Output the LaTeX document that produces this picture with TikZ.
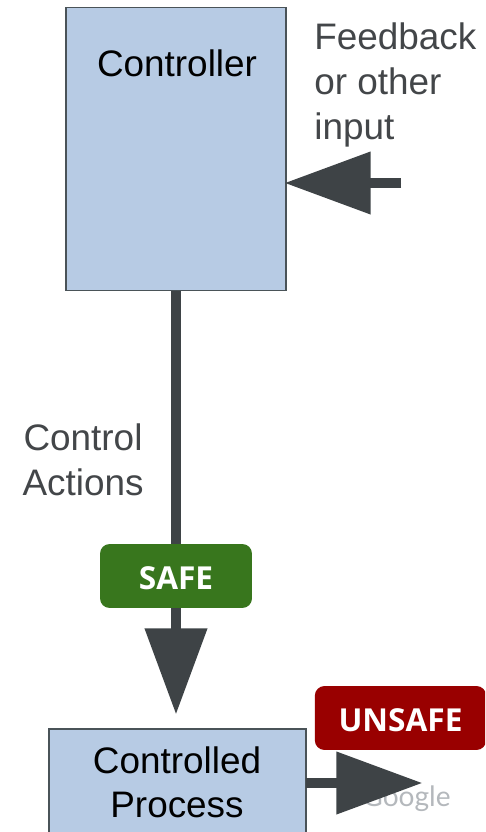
\documentclass[tikz,border=0pt]{standalone}
\usepackage{fontspec}
\setmainfont{Liberation Sans}
\newfontfamily\badgefont{Open Sans}
\newfontfamily\logofont{Lato}
\usetikzlibrary{arrows.meta}
\definecolor{boxblue}{HTML}{B7CBE4}
\definecolor{boxedge}{HTML}{4A5358}
\definecolor{arrowgray}{HTML}{3E4346}
\definecolor{labelgray}{HTML}{434649}
\definecolor{safegreen}{HTML}{38761D}
\definecolor{unsafered}{HTML}{990000}
\definecolor{logogray}{HTML}{B4B8BC}
\tikzset{
  procbox/.style={draw=boxedge,fill=boxblue,line width=1pt,outer sep=0pt,inner sep=0pt},
  boxtext/.style={text=black,align=center,font=\fontsize{21}{25}\selectfont},
  graytext/.style={text=labelgray,inner sep=0pt,font=\fontsize{21}{25.6}\selectfont},
  badge/.style={rounded corners=5.5pt,text=white,minimum height=36.4pt,inner sep=0pt,font=\badgefont\bfseries\fontsize{18}{20}\selectfont},
  bigarrow/.style={draw=arrowgray,fill=arrowgray,line width=5.9pt,-{Triangle[length=49pt,width=34.2pt]}},
}
\begin{document}
\begin{tikzpicture}[x=0.02cm,y=-0.02cm]
  \useasboundingbox (0,0) rectangle (485,832);
  \clip (0,0) rectangle (485,832);
  \node[procbox,minimum width=124.8pt,minimum height=161.2pt] (controller) at (176,149) {};
  \node[procbox,minimum width=146pt,minimum height=61.5pt] (controlled) at (177.5,783) {};
  \node[boxtext] (controllertext) at (177,63) {Controller};
  \node[boxtext] (controlledtext) at (177,782) {Controlled\\Process};
  \node[graytext,align=left,anchor=west] (feedbacktext) at (314,85) {Feedback\\or other\\input};
  \node[graytext,align=center] (actionstext) at (83,460) {Control\\Actions};
  \node[text=logogray,anchor=base east,inner sep=0pt,font=\logofont\fontsize{16}{18}\selectfont] (logotext) at (451,806) {Google};
  \coordinate (feedbackstart) at (401,183);
  \coordinate (feedbackend) at (284.5,183);
  \coordinate (actionsend) at (176,714.5);
  \coordinate (unsafeend) at (422.5,783);
  \draw[bigarrow] (feedbackstart) -- (feedbackend);
  \draw[bigarrow] (controller.south) -- (actionsend);
  \draw[bigarrow] (controlled.east) -- (unsafeend);
  \node[badge,fill=safegreen,minimum width=86.5pt] (safe) at (176,576) {};
  \node[text=white,inner sep=0pt,font=\badgefont\bfseries\fontsize{18}{20}\selectfont] (safetext) at (176,578) {SAFE};
  \node[badge,fill=unsafered,minimum width=97.5pt] (unsafe) at (400.5,718) {};
  \node[text=white,inner sep=0pt,font=\badgefont\bfseries\fontsize{18}{20}\selectfont] (unsafetext) at (400.5,720) {UNSAFE};
\end{tikzpicture}
\end{document}
